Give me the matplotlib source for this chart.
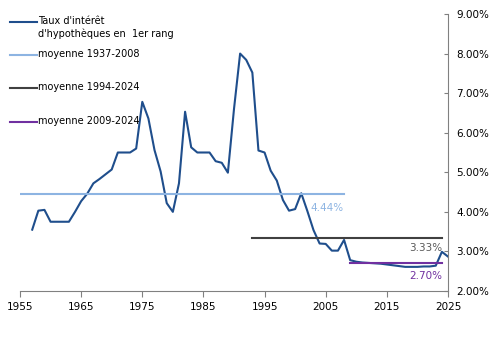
import matplotlib
matplotlib.use("Agg")
from matplotlib import pyplot as plt
from matplotlib.ticker import FuncFormatter

## data
years = list(range(1957, 2026))
rate = [
    3.55, 4.03, 4.05, 3.75, 3.75, 3.75, 3.75, 4.00, 4.27, 4.46,
    4.72, 4.83, 4.95, 5.07, 5.50, 5.50, 5.50, 5.60, 6.78, 6.36,
    5.56, 5.02, 4.22, 4.00, 4.72, 6.53, 5.63, 5.50, 5.50, 5.50,
    5.28, 5.24, 4.99, 6.60, 8.00, 7.84, 7.52, 5.55, 5.50, 5.04,
    4.79, 4.30, 4.03, 4.07, 4.47, 4.02, 3.54, 3.20, 3.19, 3.02,
    3.02, 3.29, 2.78, 2.74, 2.72, 2.71, 2.70, 2.69, 2.67, 2.65,
    2.63, 2.61, 2.61, 2.61, 2.62, 2.62, 2.64, 2.99, 2.87,
]

avg_labels = ["moyenne 1937-2008", "moyenne 1994-2024", "moyenne 2009-2024"]
avg_values = [4.44, 3.33, 2.70]
avg_start = [1955, 1993, 2009]
avg_end = [2008, 2024, 2024]

series_label = "Taux d'intérêt\nd'hypothèques en  1er rang"
xticks = [1955, 1965, 1975, 1985, 1995, 2005, 2015, 2025]
yticks = [2, 3, 4, 5, 6, 7, 8, 9]

main_color = "#1F4E8C"
avg_colors = ["#8DB4E2", "#404040", "#7030A0"]
lab_colors = ["#8DB4E2", "#595959", "#7030A0"]
lab_offsets = [-9.5, -7.0, -9.2]

W, H = 492, 340
fig = plt.figure(figsize=(W / 100, H / 100), dpi=100)
ax = fig.add_axes([20 / W, 1 - 291 / H, 428 / W, 277 / H])
fs = 7.5
fs_leg = 7.0

ax.plot(years, rate, color=main_color, lw=1.5, solid_joinstyle="round")
for v, s, e, c in zip(avg_values, avg_start, avg_end, avg_colors):
    ax.plot([s, e], [v, v], color=c, lw=1.5)
for v, e, c, off in zip(avg_values, avg_end, lab_colors, lab_offsets):
    ax.annotate("{:.2f}%".format(v), xy=(e, v), xytext=(0, off),
                textcoords="offset points", ha="right", va="center",
                color=c, fontsize=fs)

ax.set_xlim(1955, 2025)
ax.set_ylim(2, 9)
ax.set_xticks(xticks)
ax.set_yticks(yticks)
ax.yaxis.set_major_formatter(FuncFormatter(lambda v, p: "{:.2f}%".format(v)))
ax.yaxis.tick_right()
ax.tick_params(axis="y", direction="in", length=3, color="#808080",
               labelsize=fs, pad=6)
ax.tick_params(axis="x", direction="out", length=4, color="#808080",
               labelsize=fs, pad=4)
for side in ["top", "left"]:
    ax.spines[side].set_visible(False)
for side in ["bottom", "right"]:
    ax.spines[side].set_color("#808080")
    ax.spines[side].set_linewidth(0.8)

# legend drawn by hand (handle on first text line, like the original)
def px(x, y):
    return x / W, 1 - y / H

leg_rows = [21.5, 55, 88, 122]
leg_colors = [main_color] + avg_colors
leg_texts = [series_label] + avg_labels
for yy, c, t in zip(leg_rows, leg_colors, leg_texts):
    x0, y0 = px(10, yy)
    x1, _ = px(37, yy)
    fig.add_artist(plt.Line2D([x0, x1], [y0, y0], color=c, lw=1.5,
                              transform=fig.transFigure))
    tx, ty = px(38.5, yy - 6)
    fig.text(tx, ty, t, fontsize=fs_leg, va="top", ha="left",
             color="#000000", linespacing=1.4)

fig.savefig("out.png", dpi=100)
